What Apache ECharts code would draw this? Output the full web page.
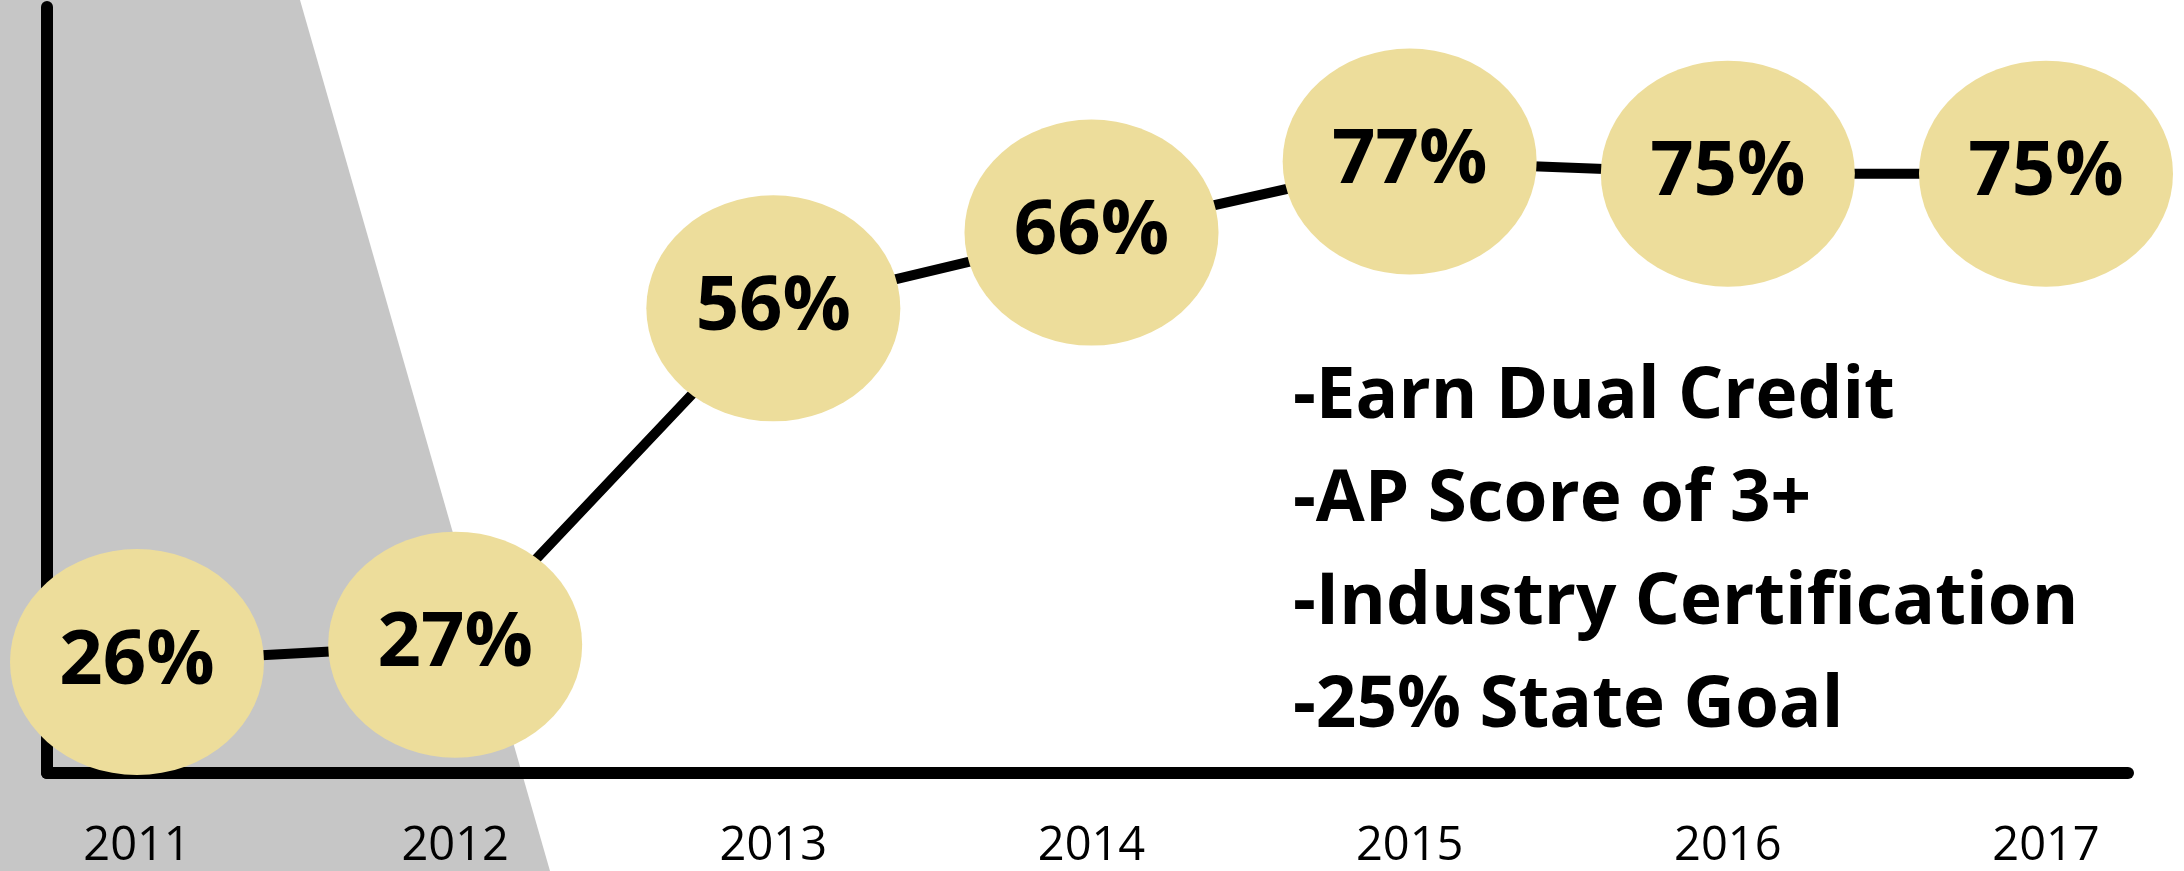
<!DOCTYPE html>
<html>
<head>
<meta charset="utf-8">
<script src="https://cdn.jsdelivr.net/npm/echarts@6/dist/echarts.min.js"></script>
<style>
  html, body { margin: 0; padding: 0; background: #fff; }
  #chart { width: 2184px; height: 871px; }
</style>
</head>
<body>
<div id="chart"></div>
<script>
const years = ['2011', '2012', '2013', '2014', '2015', '2016', '2017']
const rates = [26, 27, 56, 66, 77, 75, 75]
const notes = ['-Earn Dual Credit', '-AP Score of 3+', '-Industry Certification', '-25% State Goal']

const font = '"Open Sans", "DejaVu Sans", sans-serif'
let myChart = echarts.init(document.getElementById('chart'))

// note lines on the right
let noteText = notes.map((t, i) => ({
    type: 'text',
    z: 5,
    style: {
        x: 1293,
        y: 362 + i * 103,
        text: t,
        font: 'bold 71px ' + font,
        fill: '#000',
        verticalAlign: 'top'
    }
}))

let option = {
    animation: false,
    backgroundColor: '#fff',
    graphic: [
        {
            type: 'polygon',
            z: -10,
            shape: { points: [[0, 0], [300, 0], [550, 871], [0, 871]] },
            style: { fill: '#c6c6c6' }
        }
    ].concat(noteText),
    grid: [
        // line series grid
        { left: 137, right: 138, top: 41, bottom: 88 },
        // frame axes
        { left: 47, right: 56, top: 7, bottom: 98 }
    ],
    xAxis: [
        {
            gridIndex: 0,
            type: 'category',
            data: years,
            boundaryGap: false,
            axisLine: { show: false },
            axisTick: { show: false },
            splitLine: { show: false },
            axisLabel: {
                fontFamily: font,
                fontSize: 47,
                color: '#000',
                margin: 40,
                lineHeight: 47
            }
        },
        {
            gridIndex: 1,
            type: 'value',
            min: 0,
            max: 1,
            axisLine: { show: true, lineStyle: { color: '#000', width: 12 } },
            axisTick: { show: false },
            axisLabel: { show: false },
            splitLine: { show: false }
        }
    ],
    yAxis: [
        {
            gridIndex: 0,
            type: 'log',
            min: 20,
            max: 100,
            show: false
        },
        {
            gridIndex: 1,
            type: 'value',
            min: 0,
            max: 1,
            axisLine: { show: true, lineStyle: { color: '#000', width: 12 } },
            axisTick: { show: false },
            axisLabel: { show: false },
            splitLine: { show: false }
        }
    ],
    series: [{
        type: 'line',
        xAxisIndex: 0,
        yAxisIndex: 0,
        data: rates,
        symbol: 'circle',
        symbolSize: [254, 226],
        lineStyle: { color: '#000', width: 10 },
        itemStyle: { color: '#eddd9b', borderWidth: 0 },
        label: {
            show: true,
            position: 'inside',
            formatter: '{c}%',
            fontFamily: font,
            fontWeight: 'bold',
            fontSize: 76,
            color: '#000'
        },
        z: 3
    }]
}
myChart.setOption(option)
</script>
</body>
</html>
